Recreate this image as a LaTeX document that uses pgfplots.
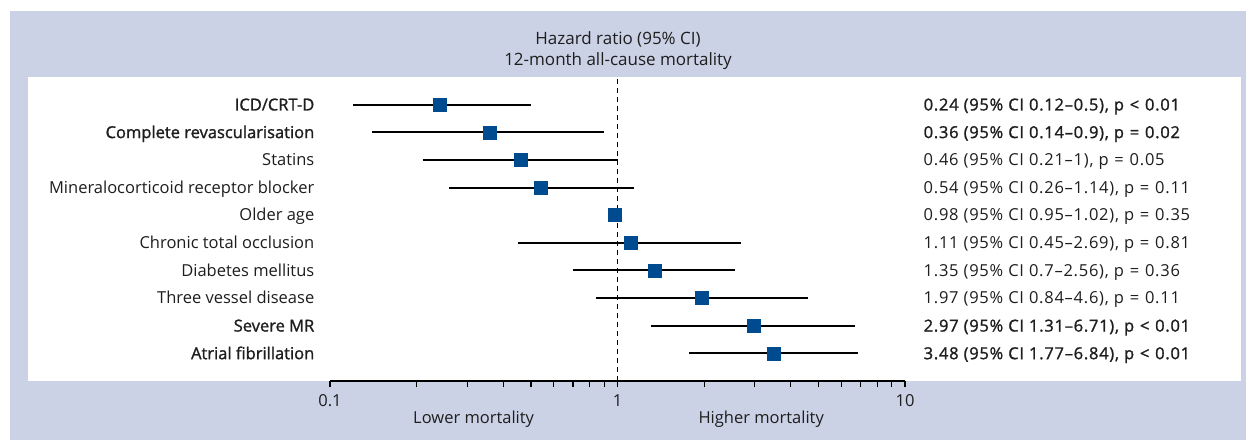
\documentclass[border=0pt]{standalone}
\usepackage{fontspec}
\setmainfont{Open Sans}[BoldFont={Open Sans}, BoldFeatures={FakeBold=1.3}]
\newfontfamily\rtfont{Open Sans}[LetterSpace=4.5, BoldFont={Open Sans}, BoldFeatures={FakeBold=1.3,LetterSpace=4.5}]
\usepackage{pgfplots}
\pgfplotsset{compat=1.18}
\definecolor{lav}{HTML}{CCD2E6}
\definecolor{sq}{HTML}{004A8F}
\definecolor{txt}{HTML}{1E1E1E}
\newcommand{\eq}{\hspace{0.35em}=\hspace{0.35em}}
\newcommand{\lt}{\hspace{0.35em}<\hspace{0.35em}}
\begin{document}
\fontsize{16.5}{19}\selectfont
\begin{tikzpicture}[x=1pt,y=1pt]
\fill[lav] (10,-11) rectangle (1246,-440);
\fill[white] (28,-77) rectangle (1241,-381);
\node[text=txt, font=\fontsize{17}{19}\selectfont] at (618,-39) {Hazard ratio (95\% CI)};
\node[text=txt, font=\fontsize{17}{19}\selectfont] at (618,-61) {12-month all-cause mortality};
\begin{axis}[at={(330pt,-381pt)}, anchor=south west, scale only axis,
  width=575pt, height=304pt,
  xmode=log, xmin=0.1, xmax=10, ymin=0, ymax=11,
  axis x line*=bottom, axis y line=none,
  x axis line style={line width=1.2pt, black},
  xtick={0.1,1,10}, xticklabels={0.1,1,10},
  tick align=outside, major tick length=6pt, minor tick length=6pt,
  every tick/.style={black, line width=1.1pt},
  xticklabel style={text=txt, font=\fontsize{16.5}{19}\selectfont, anchor=base, yshift=-19pt},
  /pgf/number format/assume math mode=true,
  clip=false]
\addplot[black, line width=1.2pt, dash pattern=on 5pt off 4pt] coordinates {(1,0) (1,11)};
\addplot[black, line width=2pt] coordinates {(0.12,10) (0.5,10)};
\addplot[black, line width=2pt] coordinates {(0.14,9) (0.9,9)};
\addplot[black, line width=2pt] coordinates {(0.21,8) (1,8)};
\addplot[black, line width=2pt] coordinates {(0.26,7) (1.14,7)};
\addplot[black, line width=2pt] coordinates {(0.95,6) (1.02,6)};
\addplot[black, line width=2pt] coordinates {(0.45,5) (2.69,5)};
\addplot[black, line width=2pt] coordinates {(0.7,4) (2.56,4)};
\addplot[black, line width=2pt] coordinates {(0.84,3) (4.6,3)};
\addplot[black, line width=2pt] coordinates {(1.31,2) (6.71,2)};
\addplot[black, line width=2pt] coordinates {(1.77,1) (6.84,1)};
\addplot[only marks, mark=square*, mark size=6.5pt, mark options={draw=sq, fill=sq}] coordinates {
(0.24,10) (0.36,9) (0.46,8) (0.54,7) (0.98,6) (1.11,5) (1.35,4) (1.97,3) (2.97,2) (3.48,1)};
% row labels
\begin{scope}[every node/.style={anchor=base east, xshift=-10pt, yshift=-5.8pt, text=txt}]
\node at (axis cs:0.1,10) {\bfseries ICD/CRT-D};
\node at (axis cs:0.1,9) {\bfseries Complete revascularisation};
\node at (axis cs:0.1,8) {Statins};
\node at (axis cs:0.1,7) {Mineralocorticoid receptor blocker};
\node at (axis cs:0.1,6) {Older age};
\node at (axis cs:0.1,5) {Chronic total occlusion};
\node at (axis cs:0.1,4) {Diabetes mellitus};
\node at (axis cs:0.1,3) {Three vessel disease};
\node at (axis cs:0.1,2) {\bfseries Severe MR};
\node at (axis cs:0.1,1) {\bfseries Atrial fibrillation};
\end{scope}
\begin{scope}[every node/.style={anchor=base west, xshift=13pt, yshift=-5.8pt, text=txt, font=\rtfont}]
\node at (axis cs:10,10) {\bfseries 0.24 (95\% CI 0.12–0.5), p\lt 0.01};
\node at (axis cs:10,9) {\bfseries 0.36 (95\% CI 0.14–0.9), p\eq 0.02};
\node at (axis cs:10,8) {0.46 (95\% CI 0.21–1), p\eq 0.05};
\node at (axis cs:10,7) {0.54 (95\% CI 0.26–1.14), p\eq 0.11};
\node at (axis cs:10,6) {0.98 (95\% CI 0.95–1.02), p\eq 0.35};
\node at (axis cs:10,5) {1.11 (95\% CI 0.45–2.69), p\eq 0.81};
\node at (axis cs:10,4) {1.35 (95\% CI 0.7–2.56), p\eq 0.36};
\node at (axis cs:10,3) {1.97 (95\% CI 0.84–4.6), p\eq 0.11};
\node at (axis cs:10,2) {\bfseries 2.97 (95\% CI 1.31–6.71), p\lt 0.01};
\node at (axis cs:10,1) {\bfseries 3.48 (95\% CI 1.77–6.84), p\lt 0.01};
\end{scope}
\node[text=txt] at (axis cs:0.316,0) [yshift=-38pt] {Lower mortality};
\node[text=txt] at (axis cs:3.16,0) [yshift=-38pt] {Higher mortality};
\end{axis}
\pgfresetboundingbox
\useasboundingbox (0,0) rectangle (1246,-440);
\end{tikzpicture}
\end{document}
